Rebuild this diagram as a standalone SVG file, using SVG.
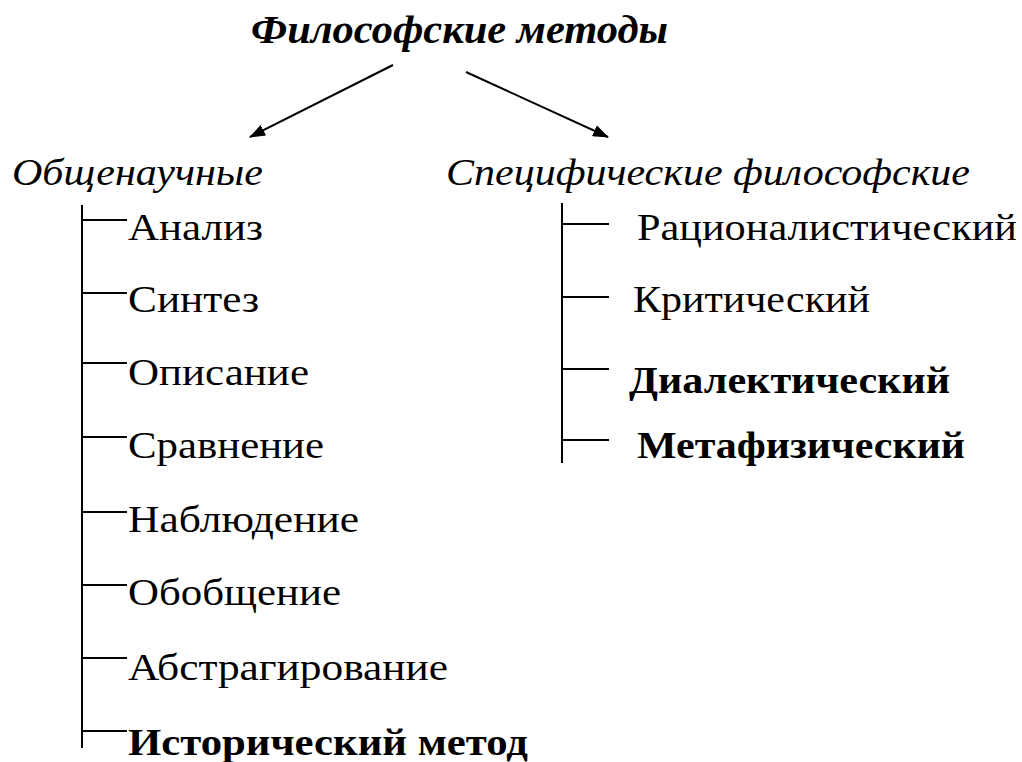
<svg xmlns="http://www.w3.org/2000/svg" width="1022" height="762" viewBox="0 0 1022 762">
<defs>
<style>
text{font-family:"Liberation Serif","Times New Roman",serif;fill:#000;font-size:38px}
.title{font-weight:bold;font-style:italic;font-size:40px}
.cat{font-style:italic}
.b{font-weight:bold}
.ln{stroke:#000;stroke-width:2;fill:none}
</style>
<marker id="ah" viewBox="0 0 16 12" refX="15" refY="6" markerWidth="16" markerHeight="12" markerUnits="userSpaceOnUse" orient="auto">
<path d="M0,0 L16,6 L0,12 Z" fill="#000"/>
</marker>
</defs>
<rect width="1022" height="762" fill="#fff"/>
<g id="title"><text class="title" x="251" y="43" textLength="417" lengthAdjust="spacingAndGlyphs">Философские методы</text></g>
<g id="general"><text class="cat" x="12" y="185" textLength="251" lengthAdjust="spacingAndGlyphs">Общенаучные</text></g>
<g id="specific"><text class="cat" x="446" y="185" textLength="524" lengthAdjust="spacingAndGlyphs">Специфические философские</text></g>
<g id="connectors">
<line class="ln" x1="393" y1="65" x2="250" y2="137" marker-end="url(#ah)"/>
<line class="ln" x1="466" y1="72" x2="608" y2="137" marker-end="url(#ah)"/>
<path class="ln" d="M82,205V748 M82,220H127 M82,293H127 M82,363H127 M82,437H127 M82,512H127 M82,585H127 M82,658H127 M82,731H127"/>
<path class="ln" d="M562,203V463 M562,224H609 M562,297H609 M562,369H609 M562,440H609"/>
</g>
<g id="n-analiz"><text x="128" y="240" textLength="135" lengthAdjust="spacingAndGlyphs">Анализ</text></g>
<g id="n-sintez"><text x="128" y="312" textLength="131" lengthAdjust="spacingAndGlyphs">Синтез</text></g>
<g id="n-opisanie"><text x="128" y="385" textLength="181" lengthAdjust="spacingAndGlyphs">Описание</text></g>
<g id="n-sravnenie"><text x="128" y="458" textLength="196" lengthAdjust="spacingAndGlyphs">Сравнение</text></g>
<g id="n-nabl"><text x="128" y="532" textLength="231" lengthAdjust="spacingAndGlyphs">Наблюдение</text></g>
<g id="n-obob"><text x="128" y="605" textLength="213" lengthAdjust="spacingAndGlyphs">Обобщение</text></g>
<g id="n-abstr"><text x="128" y="680" textLength="320" lengthAdjust="spacingAndGlyphs">Абстрагирование</text></g>
<g id="n-ist"><text class="b" x="128" y="755" textLength="400" lengthAdjust="spacingAndGlyphs">Исторический метод</text></g>
<g id="n-rac"><text x="637" y="240" textLength="380" lengthAdjust="spacingAndGlyphs">Рационалистический</text></g>
<g id="n-krit"><text x="633" y="312" textLength="237" lengthAdjust="spacingAndGlyphs">Критический</text></g>
<g id="n-dial"><text class="b" x="629" y="393" textLength="321" lengthAdjust="spacingAndGlyphs">Диалектический</text></g>
<g id="n-meta"><text class="b" x="637" y="458" textLength="328" lengthAdjust="spacingAndGlyphs">Метафизический</text></g>
</svg>
